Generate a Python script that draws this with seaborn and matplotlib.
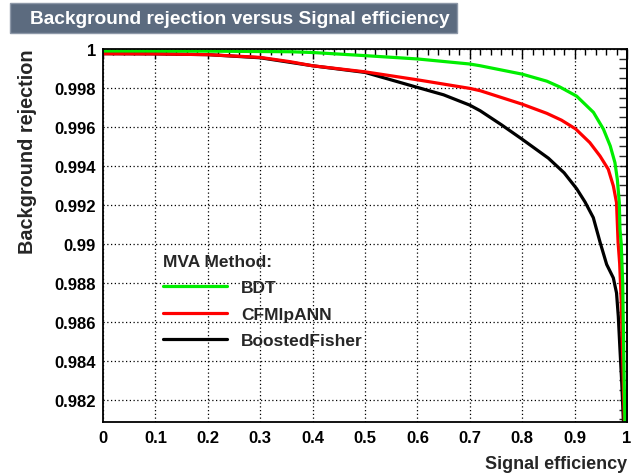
import pandas as pd
import matplotlib.pyplot as plt
import seaborn as sns
from matplotlib.patches import Rectangle
from matplotlib.ticker import MultipleLocator, FuncFormatter

# ROC points (signal efficiency, background rejection)
bdt_eff = [0.0, 0.1, 0.2, 0.3, 0.357, 0.4, 0.5, 0.6, 0.7, 0.72, 0.8, 0.847,
           0.872, 0.904, 0.936, 0.955, 0.968, 0.977, 0.9815, 0.9853, 0.9866,
           0.989, 0.9918, 0.994, 0.996]
bdt_rej = [0.99990, 0.99990, 0.99989, 0.99987, 0.99986, 0.99982, 0.99966,
           0.99949, 0.99923, 0.99914, 0.99871, 0.99835, 0.99805, 0.99758,
           0.99675, 0.99589, 0.99503, 0.99417, 0.99332, 0.99213, 0.99075,
           0.99000, 0.98800, 0.98400, 0.98080]

ann_eff = [0.0, 0.1, 0.2, 0.3, 0.357, 0.4, 0.5, 0.6, 0.7, 0.72, 0.8, 0.847,
           0.875, 0.902, 0.929, 0.9485, 0.9643, 0.974, 0.980, 0.9815, 0.983,
           0.986, 0.989, 0.992, 0.995]
ann_rej = [0.99976, 0.99975, 0.99971, 0.99957, 0.99935, 0.99914, 0.99883,
           0.99842, 0.99798, 0.99786, 0.99717, 0.99670, 0.99635, 0.99590,
           0.99520, 0.99451, 0.99383, 0.99297, 0.99212, 0.99110, 0.99008,
           0.98900, 0.98700, 0.98400, 0.98080]

fisher_eff = [0.0, 0.1, 0.2, 0.3, 0.4, 0.5, 0.6, 0.65, 0.7, 0.72, 0.76, 0.8,
              0.85, 0.88, 0.904, 0.92, 0.9357, 0.9485, 0.9612, 0.9739, 0.980,
              0.9834, 0.9866, 0.990, 0.993, 0.994]
fisher_rej = [0.99976, 0.99975, 0.99971, 0.99955, 0.99914, 0.99880, 0.99803,
              0.99765, 0.99712, 0.99683, 0.99612, 0.99537, 0.99440, 0.99365,
              0.99283, 0.99215, 0.99135, 0.99010, 0.98895, 0.98826, 0.98749,
              0.98629, 0.98458, 0.98286, 0.98098, 0.98050]

methods = ["BDT", "CFMlpANN", "BoostedFisher"]
colors = {"BDT": "#00ee00", "CFMlpANN": "#ff0000", "BoostedFisher": "#000000"}

df = pd.concat([
    pd.DataFrame({"eff": bdt_eff, "rej": bdt_rej, "method": "BDT"}),
    pd.DataFrame({"eff": ann_eff, "rej": ann_rej, "method": "CFMlpANN"}),
    pd.DataFrame({"eff": fisher_eff, "rej": fisher_rej, "method": "BoostedFisher"}),
])

sns.set_style("white")
plt.rcParams["font.family"] = ["Liberation Sans", "DejaVu Sans"]
plt.rcParams["font.weight"] = "bold"

fig = plt.figure(figsize=(6.38, 4.77), dpi=100)
ax = fig.add_axes([103 / 638, 1 - 423 / 477, 524 / 638, 373 / 477])

# draw black first so red and green sit on top
handles = {}
for m in ["BoostedFisher", "CFMlpANN", "BDT"]:
    sub = df[df["method"] == m]
    sns.lineplot(data=sub, x="eff", y="rej", color=colors[m], linewidth=2.3,
                 ax=ax, label=m, estimator=None, sort=False)
for line in ax.get_lines():
    handles[line.get_label()] = line

ax.set_xlim(0, 1)
ax.set_ylim(0.98087, 1.0)
ax.xaxis.set_major_locator(MultipleLocator(0.1))
ax.xaxis.set_minor_locator(MultipleLocator(0.02))
ax.yaxis.set_major_locator(MultipleLocator(0.002))
ax.yaxis.set_minor_locator(MultipleLocator(0.0005))
fmt = FuncFormatter(lambda v, p: f"{round(v, 4):g}")
ax.xaxis.set_major_formatter(fmt)
ax.yaxis.set_major_formatter(fmt)

ax.grid(True, which="major", color="black", linestyle=(0, (1, 2)), linewidth=0.9)
for s in ax.spines.values():
    s.set_color("black")
    s.set_linewidth(1.3)

ax.tick_params(axis="both", which="both", direction="in", colors="black",
               labelsize=12)
ax.tick_params(axis="x", which="major", length=7.2, width=1, pad=6, top=True)
ax.tick_params(axis="x", which="minor", length=4.3, width=1, top=True)
ax.tick_params(axis="y", which="major", length=11.5, width=1, pad=5)
ax.tick_params(axis="y", which="minor", length=5.8, width=1)
for lab in ax.get_xticklabels() + ax.get_yticklabels():
    lab.set_fontweight("bold")

right = ax.secondary_yaxis("right")
right.yaxis.set_major_locator(MultipleLocator(0.002))
right.yaxis.set_minor_locator(MultipleLocator(0.0005))
right.tick_params(which="both", direction="in", length=5.6, width=1,
                  labelright=False)
right.spines["right"].set_linewidth(1.3)

ax.set_xlabel("")
ax.set_ylabel("")
fig.text(627 / 638, 1 - 465 / 477, "Signal efficiency", ha="right",
         va="center", fontsize=13, fontweight="bold")
fig.text(28 / 638, 1 - 49 / 477, "Background rejection", rotation=90,
         ha="center", va="top", fontsize=14.3, fontweight="bold")

leg = ax.legend([handles[m] for m in methods], methods,
                title="MVA Method:", loc="upper left",
                bbox_to_anchor=(163 / 638, 1 - 255 / 477),
                bbox_transform=fig.transFigure, frameon=False,
                prop={"size": 12.5, "weight": "bold"},
                alignment="left", handlelength=3.7, handletextpad=0.8,
                labelspacing=0.66, borderpad=0, borderaxespad=0)
leg.get_title().set_fontsize(12.5)
leg.get_title().set_fontweight("bold")
leg._legend_box.sep = 8
for t in leg.get_texts():
    t.set_fontweight("bold")

# title banner
fig.add_artist(Rectangle((10 / 638, 1 - 34 / 477), 447 / 638, 30 / 477,
                         transform=fig.transFigure, facecolor="#5c6b7f",
                         edgecolor="#8d98a8", linewidth=1))
fig.text(30 / 638, 1 - 19 / 477, "Background rejection versus Signal efficiency",
         ha="left", va="center", color="white", fontsize=13.8,
         fontweight="bold")

fig.savefig("out.png", dpi=100)
